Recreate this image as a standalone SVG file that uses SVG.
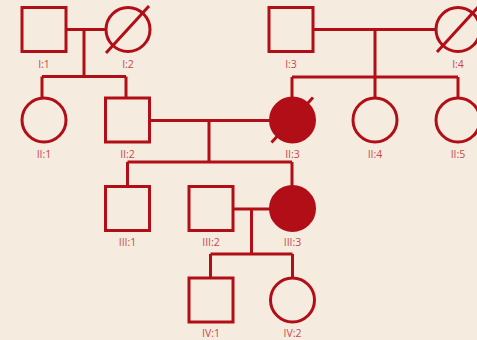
<svg xmlns="http://www.w3.org/2000/svg" width="477" height="340" viewBox="0 0 477 340">
  <style>
    .bg { fill: #f5ebdf; }
    .m { fill: none; stroke: #b20e17; stroke-width: 3; }
    .af { fill: #b20e17; stroke: #b20e17; stroke-width: 3; }
    .ln { fill: none; stroke: #b20e17; stroke-width: 3; stroke-linecap: butt; }
    .lb { font-family: "Open Sans", "Noto Sans", sans-serif; font-size: 10.5px; fill: #c9474c; text-anchor: middle; }
  </style>
  <rect class="bg" x="0" y="0" width="477" height="340"/>

  <!-- connectors: marriage lines, descent lines and sibship lines -->
  <g id="connectors" class="ln">
    <path d="M66 29.5 H106 M84 29.5 V76.5 M42 76.5 H126 M42 76.5 V98 M126 76.5 V98"/>
    <path d="M313 29.5 H436 M375 29.5 V77 M292 77 H458 M292 77 V98 M375 77 V98 M458 77 V98"/>
    <path d="M150 120.5 H270 M209 120.5 V162 M127.5 162 H292 M127.5 162 V186 M292 162 V186"/>
    <path d="M233 209 H270 M251.5 209 V254 M210.5 254 H292.5 M210.5 254 V278 M292.5 254 V278"/>
  </g>

  <!-- generation I -->
  <g id="I1"><rect class="m" x="22" y="7.5" width="44" height="44"/><text class="lb" x="44" y="67.5">I:1</text></g>
  <g id="I2"><circle class="m" cx="128" cy="29.5" r="22"/><line class="ln" x1="106" y1="53" x2="149" y2="6"/><text class="lb" x="128" y="67.5">I:2</text></g>
  <g id="I3"><rect class="m" x="269" y="7.5" width="44" height="44"/><text class="lb" x="291" y="67.5">I:3</text></g>
  <g id="I4"><circle class="m" cx="458" cy="29.5" r="22"/><line class="ln" x1="437" y1="52" x2="480" y2="5"/><text class="lb" x="458" y="67.5">I:4</text></g>

  <!-- generation II -->
  <g id="II1"><circle class="m" cx="44" cy="120" r="22"/><text class="lb" x="44" y="157.5">II:1</text></g>
  <g id="II2"><rect class="m" x="105.5" y="98" width="44" height="44"/><text class="lb" x="127.5" y="157.5">II:2</text></g>
  <g id="II3"><circle class="af" cx="292.5" cy="120" r="22"/><line class="ln" x1="271.5" y1="142.5" x2="313" y2="97.5"/><text class="lb" x="292.5" y="157.5">II:3</text></g>
  <g id="II4"><circle class="m" cx="375" cy="120" r="22"/><text class="lb" x="375" y="157.5">II:4</text></g>
  <g id="II5"><circle class="m" cx="458" cy="120" r="22"/><text class="lb" x="458" y="157.5">II:5</text></g>

  <!-- generation III -->
  <g id="III1"><rect class="m" x="105.5" y="186.5" width="44" height="44"/><text class="lb" x="127.5" y="246">III:1</text></g>
  <g id="III2"><rect class="m" x="189" y="186.5" width="44" height="44"/><text class="lb" x="211" y="246">III:2</text></g>
  <g id="III3"><circle class="af" cx="292.5" cy="208.5" r="22"/><text class="lb" x="292.5" y="246">III:3</text></g>

  <!-- generation IV -->
  <g id="IV1"><rect class="m" x="189" y="278" width="44" height="44"/><text class="lb" x="211" y="337">IV:1</text></g>
  <g id="IV2"><circle class="m" cx="292.5" cy="300" r="22"/><text class="lb" x="292.5" y="337">IV:2</text></g>
</svg>
